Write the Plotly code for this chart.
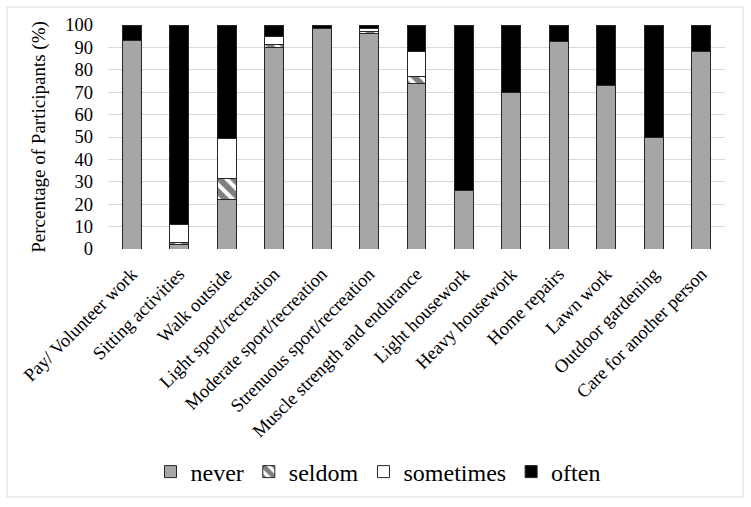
import plotly.graph_objects as go

categories = ["Pay/ Volunteer work", "Sitting activities", "Walk outside",
              "Light sport/recreation", "Moderate sport/recreation",
              "Strenuous sport/recreation", "Muscle strength and endurance",
              "Light housework", "Heavy housework", "Home repairs",
              "Lawn work", "Outdoor gardening", "Care for another person"]
never = [93, 2, 22, 90, 98.5, 96, 74, 26, 70, 92.5, 73, 50, 88]
seldom = [0, 1, 9.5, 1.5, 0, 1, 3, 0, 0, 0, 0, 0, 0]
sometimes = [0, 8, 18, 3.5, 0, 1.5, 11, 0, 0, 0, 0, 0, 0]
often = [7, 89, 50.5, 5, 1.5, 1.5, 12, 74, 30, 7.5, 27, 50, 12]
yticks = list(range(0, 101, 10))

FONT = "Liberation Serif, Times New Roman, serif"
line = dict(color="#262626", width=1)

fig = go.Figure()
fig.add_bar(name="never", x=categories, y=never,
            marker=dict(color="#a6a6a6", line=line))
fig.add_bar(name="seldom", x=categories, y=seldom,
            marker=dict(color="white", line=line,
                        pattern=dict(shape="\\", fgcolor="black", bgcolor="white",
                                     size=10, solidity=0.6)))
fig.add_bar(name="sometimes", x=categories, y=sometimes,
            marker=dict(color="white", line=line))
fig.add_bar(name="often", x=categories, y=often,
            marker=dict(color="black", line=line))

L, R, T, B = 108, 26, 25, 258
W, H = 751, 507
pw, ph = W - L - R, H - T - B

fig.update_layout(
    barmode="stack", bargap=0.6,
    width=W, height=H,
    margin=dict(l=L, r=R, t=T, b=B, autoexpand=False),
    paper_bgcolor="white", plot_bgcolor="white",
    font=dict(family=FONT, size=18, color="black"),
    showlegend=True,
    legend=dict(orientation="h", x=(378 - L) / pw, xanchor="center",
                y=(T + ph - 472) / ph, yanchor="middle",
                font=dict(family=FONT, size=24, color="black"),
                traceorder="normal", itemwidth=30),
    xaxis=dict(tickangle=-45, showgrid=False, ticks="outside", ticklen=6,
               tickcolor="rgba(0,0,0,0)", showline=False,
               automargin=False,
               tickfont=dict(family=FONT, size=18.5)),
    yaxis=dict(range=[0, 100], tickvals=yticks, showgrid=True,
               gridcolor="#d9d9d9", gridwidth=1, zeroline=False,
               automargin=False, ticklabelstandoff=14,
               title=dict(text="Percentage of Participants (%)",
                          font=dict(family=FONT, size=19), standoff=14),
               tickfont=dict(family=FONT, size=18.5)),
    shapes=[dict(type="rect", xref="paper", yref="paper",
                 x0=(7 - L) / pw, x1=(743 - L) / pw,
                 y0=(T + ph - 497) / ph, y1=(T + ph - 7) / ph,
                 line=dict(color="#d9d9d9", width=1), layer="below")],
)

fig.write_html("out.html", config={"displayModeBar": False},
               post_script="document.body.style.margin='0';document.body.style.padding='0';")
